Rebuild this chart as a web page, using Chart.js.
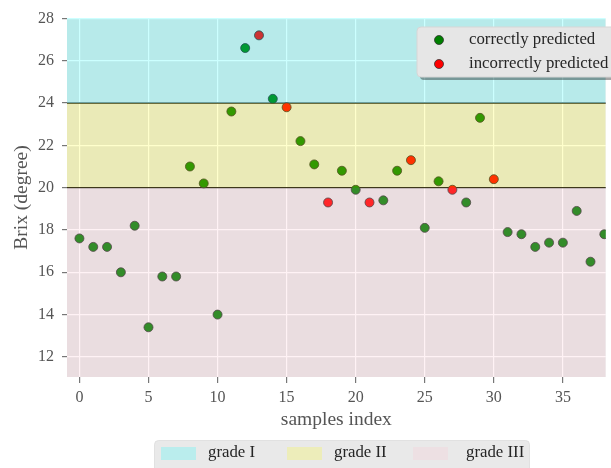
<!DOCTYPE html>
<html>
<head>
<meta charset="utf-8">
<script src="https://cdn.jsdelivr.net/npm/chart.js@4.4.1/dist/chart.umd.min.js"></script>
<style>
  body { margin: 0; background: #fff; }
</style>
</head>
<body>
<canvas id="myChart" width="611" height="468"></canvas>
<script>
// Data for chart
const sampleIndex = [0, 1, 2, 3, 4, 5, 6, 7, 8, 9, 10, 11, 12, 13, 14, 15, 16, 17, 18, 19,
  20, 21, 22, 23, 24, 25, 26, 27, 28, 29, 30, 31, 32, 33, 34, 35, 36, 37, 38];
const brixValues = [17.6, 17.2, 17.2, 16.0, 18.2, 13.4, 15.8, 15.8, 21.0, 20.2, 14.0, 23.6, 26.6, 27.2,
  24.2, 23.8, 22.2, 21.1, 19.3, 20.8, 19.9, 19.3, 19.4, 20.8, 21.3, 18.1, 20.3, 19.9, 19.3, 23.3,
  20.4, 17.9, 17.8, 17.2, 17.4, 17.4, 18.9, 16.5, 17.8];
const wrongIndex = [13, 15, 18, 21, 24, 27, 30];   // incorrectly predicted samples

const gradeNames = ['grade I', 'grade II', 'grade III'];
const gradeLow = [24, 20, 0];
const gradeHigh = [40, 24, 20];
const gradeColors = ['rgba(0, 255, 255, 0.2)', 'rgba(255, 255, 0, 0.2)', 'rgba(255, 192, 203, 0.2)'];
const gradeLines = [20, 24];

const xTicks = [0, 5, 10, 15, 20, 25, 30, 35];
const yTicks = [12, 14, 16, 18, 20, 22, 24, 26, 28];

const seriesNames = ['correctly predicted', 'incorrectly predicted'];
const seriesColors = ['rgb(0, 128, 0)', 'rgb(255, 0, 0)'];

// split points into the two series
const correctPts = [];
const wrongPts = [];
sampleIndex.forEach((x, i) => {
  const p = { x: x, y: brixValues[i] };
  if (wrongIndex.includes(x)) wrongPts.push(p); else correctPts.push(p);
});

const serif = "'Liberation Serif', 'Times New Roman', serif";

// grey panel + black lines under the points
const panelPlugin = {
  id: 'panel',
  beforeDraw(chart) {
    const { ctx, chartArea: a } = chart;
    ctx.save();
    ctx.fillStyle = '#e5e5e5';
    ctx.fillRect(a.left, a.top, a.right - a.left, a.bottom - a.top);
    ctx.restore();
  },
  beforeDatasetsDraw(chart) {
    const { ctx, chartArea: a, scales } = chart;
    ctx.save();
    ctx.strokeStyle = '#111';
    ctx.lineWidth = 1.3;
    gradeLines.forEach(v => {
      const y = scales.y.getPixelForValue(v);
      ctx.beginPath();
      ctx.moveTo(a.left, y);
      ctx.lineTo(a.right, y);
      ctx.stroke();
    });
    ctx.restore();
  },
  // translucent grade bands go over everything in the panel
  afterDatasetsDraw(chart) {
    const { ctx, chartArea: a, scales } = chart;
    ctx.save();
    ctx.beginPath();
    ctx.rect(a.left, a.top, a.right - a.left, a.bottom - a.top);
    ctx.clip();
    gradeNames.forEach((g, i) => {
      const y1 = scales.y.getPixelForValue(gradeHigh[i]);
      const y2 = scales.y.getPixelForValue(gradeLow[i]);
      ctx.fillStyle = gradeColors[i];
      ctx.fillRect(a.left, y1, a.right - a.left, y2 - y1);
    });
    ctx.restore();
  }
};

function roundRect(ctx, x, y, w, h, r) {
  ctx.beginPath();
  ctx.moveTo(x + r, y);
  ctx.lineTo(x + w - r, y);
  ctx.quadraticCurveTo(x + w, y, x + w, y + r);
  ctx.lineTo(x + w, y + h - r);
  ctx.quadraticCurveTo(x + w, y + h, x + w - r, y + h);
  ctx.lineTo(x + r, y + h);
  ctx.quadraticCurveTo(x, y + h, x, y + h - r);
  ctx.lineTo(x, y + r);
  ctx.quadraticCurveTo(x, y, x + r, y);
  ctx.closePath();
}

// both legends
const legendPlugin = {
  id: 'legends',
  afterDraw(chart) {
    const ctx = chart.ctx;
    ctx.save();
    // top right legend with shadow
    ctx.fillStyle = 'rgba(0, 0, 0, 0.35)';
    roundRect(ctx, 420, 30, 200, 50, 4);
    ctx.fill();
    ctx.fillStyle = '#e6e6e6';
    ctx.strokeStyle = '#d6d6d6';
    ctx.lineWidth = 1;
    roundRect(ctx, 417, 27, 200, 50, 4);
    ctx.fill();
    ctx.stroke();
    ctx.font = '16.8px ' + serif;
    ctx.textBaseline = 'middle';
    seriesNames.forEach((s, i) => {
      const y = 40 + i * 24;
      ctx.beginPath();
      ctx.arc(439, y, 4.5, 0, Math.PI * 2);
      ctx.fillStyle = seriesColors[i];
      ctx.fill();
      ctx.strokeStyle = '#333';
      ctx.lineWidth = 0.8;
      ctx.stroke();
      ctx.fillStyle = '#262626';
      ctx.fillText(s, 469, y);
    });

    // bottom legend for the grades
    ctx.fillStyle = '#e9e9e9';
    ctx.strokeStyle = '#dcdcdc';
    roundRect(ctx, 154.5, 440.5, 375, 40, 4);
    ctx.fill();
    ctx.stroke();
    const patchX = [161, 287, 413];
    const textX = [208, 334, 466];
    gradeNames.forEach((g, i) => {
      ctx.fillStyle = gradeColors[i];
      ctx.fillRect(patchX[i], 447, 35, 13);
      ctx.fillStyle = '#262626';
      ctx.fillText(g, textX[i], 453);
    });
    ctx.restore();
  }
};

const ctx = document.getElementById('myChart').getContext('2d');
const myChart = new Chart(ctx, {
  type: 'scatter',
  data: {
    datasets: [
      {
        label: seriesNames[0],
        data: correctPts,
        backgroundColor: seriesColors[0],
        borderColor: '#2a2a2a',
        borderWidth: 0.8,
        pointRadius: 4.5
      },
      {
        label: seriesNames[1],
        data: wrongPts,
        backgroundColor: seriesColors[1],
        borderColor: '#2a2a2a',
        borderWidth: 0.8,
        pointRadius: 4.5
      }
    ]
  },
  options: {
    responsive: false,
    animation: false,
    layout: { padding: { top: 18, right: 0, bottom: 36, left: 0 } },
    scales: {
      x: {
        type: 'linear',
        min: -0.9,
        max: 38.1,
        afterBuildTicks: s => { s.ticks = xTicks.map(v => ({ value: v })); },
        afterFit: s => { s.height = 55; },
        border: { display: false },
        grid: { color: '#ffffff', lineWidth: 1.2, tickColor: '#777', tickLength: 6 },
        ticks: { color: '#555', padding: 5, maxRotation: 0, font: { family: serif, size: 16 } },
        title: {
          display: true,
          text: 'samples index',
          color: '#555',
          padding: { top: 0, bottom: 0 },
          font: { family: serif, size: 19.5 }
        }
      },
      y: {
        min: 11.05,
        max: 28.02,
        afterBuildTicks: s => { s.ticks = yTicks.map(v => ({ value: v })); },
        afterFit: s => { s.width = 67; },
        border: { display: false },
        grid: { color: '#ffffff', lineWidth: 1.2, tickColor: '#777', tickLength: 5 },
        ticks: { color: '#555', padding: 8, font: { family: serif, size: 16 } },
        title: {
          display: true,
          text: 'Brix (degree)',
          color: '#555',
          padding: { top: 10, bottom: 0 },
          font: { family: serif, size: 19.5 }
        }
      }
    },
    plugins: {
      legend: { display: false },
      tooltip: { enabled: false }
    }
  },
  plugins: [panelPlugin, legendPlugin]
});
</script>
</body>
</html>
